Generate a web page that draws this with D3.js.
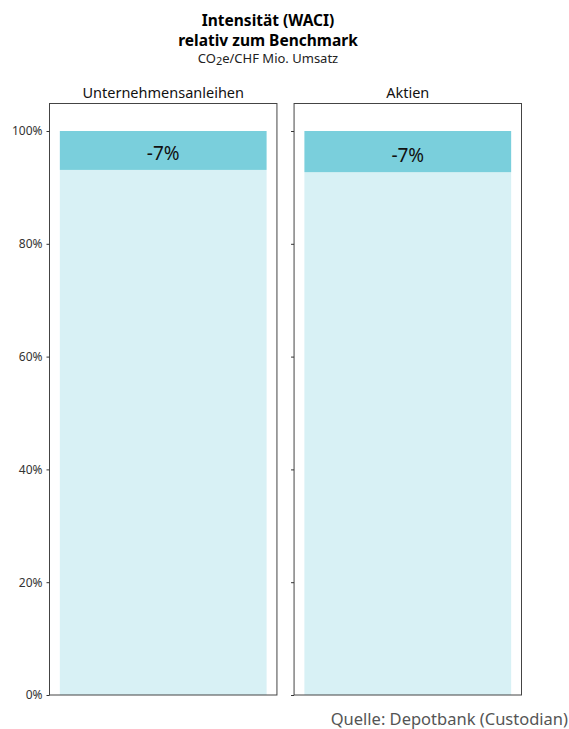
<!DOCTYPE html>
<html><head><meta charset="utf-8">
<script src="https://cdn.jsdelivr.net/npm/d3@7"></script>
<style>body{margin:0;background:#fff}svg{display:block}</style>
</head><body>
<svg id="c" width="569" height="729"></svg>
<script>
const categories = ["Unternehmensanleihen", "Aktien"];
const portfolio = [93.1, 92.7];
const benchmark = [100, 100];
const labels = ["-7%", "-7%"];
const yTicks = [0, 20, 40, 60, 80, 100];

const svg = d3.select("#c");
const font = "'Noto Sans', 'Open Sans', sans-serif";
const y = d3.scaleLinear().domain([0, 100]).range([695, 131]);
const panelX = d3.scaleBand().domain(categories).range([49.5, 521.5]).paddingInner(0.07);
const inner = d3.scaleBand().domain(["bar"]).range([0, panelX.bandwidth()]).paddingInner(0).paddingOuter(0.05);

// title
svg.append("text").attr("x", 268).attr("y", 26).attr("text-anchor", "middle")
  .attr("font-family", font).attr("font-weight", "bold").attr("font-size", 15.5).attr("fill", "#000")
  .text("Intensität (WACI)");
svg.append("text").attr("x", 268).attr("y", 45.5).attr("text-anchor", "middle")
  .attr("font-family", font).attr("font-weight", "bold").attr("font-size", 15.5).attr("fill", "#000")
  .text("relativ zum Benchmark");
const sub = svg.append("text").attr("x", 268).attr("y", 63).attr("text-anchor", "middle")
  .attr("font-family", font).attr("font-size", 13).attr("fill", "#222");
sub.append("tspan").text("CO");
sub.append("tspan").attr("font-size", 11).attr("dy", 2).text("2");
sub.append("tspan").attr("dy", -2).text("e/CHF Mio. Umsatz");

categories.forEach((c, i) => {
  const x0 = panelX(c);
  const g = svg.append("g").attr("transform", `translate(${x0},0)`);
  const bx = inner("bar"), bw = inner.bandwidth();
  g.append("rect").attr("x", bx).attr("width", bw)
    .attr("y", y(portfolio[i])).attr("height", y(0) - y(portfolio[i])).attr("fill", "#d8f1f5");
  g.append("rect").attr("x", bx).attr("width", bw)
    .attr("y", y(benchmark[i])).attr("height", y(portfolio[i]) - y(benchmark[i])).attr("fill", "#7acfdc");
  g.append("text").attr("x", bx + bw / 2).attr("y", (y(benchmark[i]) + y(portfolio[i])) / 2 + 10)
    .attr("text-anchor", "middle").attr("font-family", font).attr("font-size", 19).attr("fill", "#111")
    .text(labels[i]);
  // frame
  g.append("rect").attr("x", 0).attr("y", 103.5).attr("width", panelX.bandwidth()).attr("height", y(0) - 103.5)
    .attr("fill", "none").attr("stroke", "#444").attr("stroke-width", 1);
  // axis ticks
  const ax = g.append("g").call(d3.axisLeft(y).tickValues(yTicks).tickSize(3).tickPadding(4)
    .tickFormat(i === 0 ? (d => d + "%") : ""));
  ax.select(".domain").remove();
  ax.selectAll("line").attr("stroke", "#333");
  ax.selectAll("text").attr("font-family", font).attr("font-size", 12).attr("fill", "#333");
  // facet label
  svg.append("text").attr("x", x0 + panelX.bandwidth() / 2).attr("y", 98).attr("text-anchor", "middle")
    .attr("font-family", font).attr("font-size", 14.5).attr("fill", "#111").text(c);
});

svg.append("text").attr("x", 568).attr("y", 725).attr("text-anchor", "end")
  .attr("font-family", font).attr("font-size", 16.5).attr("fill", "#555")
  .text("Quelle: Depotbank (Custodian)");
</script>
</body></html>
